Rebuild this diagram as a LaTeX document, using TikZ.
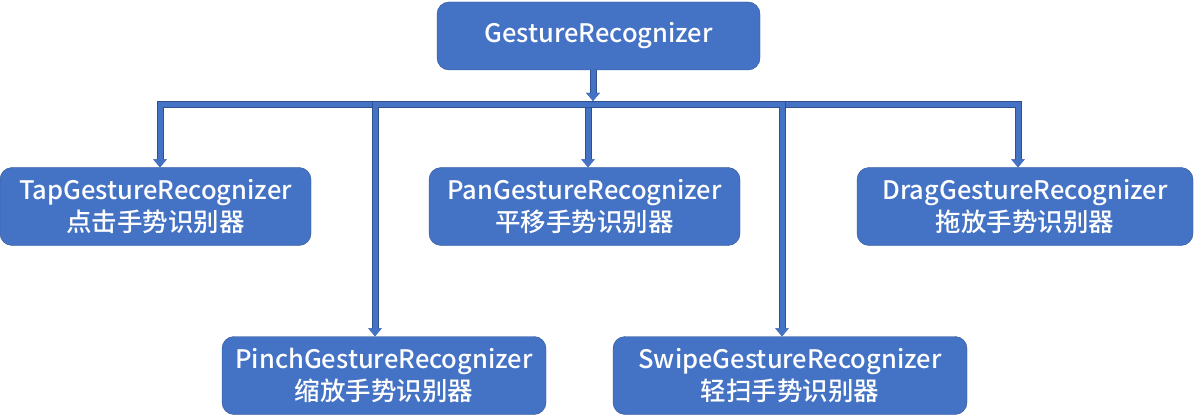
\documentclass[tikz,border=0pt]{standalone}
\usepackage{fontspec}
\setmainfont{Noto Sans CJK SC}[UprightFont=* Medium]
\usetikzlibrary{arrows.meta}
\definecolor{boxfill}{HTML}{4472C4}
\definecolor{boxline}{HTML}{2F528F}
\begin{document}
\begin{tikzpicture}[
                            x=1pt, y=-1pt,
                            >={Triangle[width=13pt,length=8pt]},
                            block/.style={rectangle, rounded corners=12pt, draw=boxline, fill=boxfill,
                                text=white, font=\fontsize{25.5}{32}\selectfont, align=center,
                                inner sep=0pt, minimum height=78pt},
                            conn/.style={->, draw=boxfill, line width=5pt,
                                preaction={draw=boxline, line width=7pt}}
                        ]
                        \useasboundingbox (0,0) rectangle (1195,417);
                        % Blocks
                        \node [block, minimum width=323pt, minimum height=68pt] (base) at (598.5,36) {GestureRecognizer};
                        \node [block, minimum width=311pt] (tap) at (155.5,206.5) {TapGestureRecognizer\\点击手势识别器};
                        \node [block, minimum width=311pt] (pan) at (584.5,206.5) {PanGestureRecognizer\\平移手势识别器};
                        \node [block, minimum width=336pt] (drag) at (1025,206.5) {DragGestureRecognizer\\拖放手势识别器};
                        \node [block, minimum width=324pt] (pinch) at (384,375.5) {PinchGestureRecognizer\\缩放手势识别器};
                        \node [block, minimum width=354pt] (swipe) at (790,375.5) {SwipeGestureRecognizer\\轻扫手势识别器};
                        \coordinate (bus) at (593,105);
                        \coordinate (busin) at (593,101);

                        % Connections
                        \draw [conn] (base.south -| busin) -- (busin);
                        \draw [conn] (bus) -| ([xshift=4.5pt]tap.north);
                        \draw [conn] (bus) -| ([xshift=3.5pt]pan.north);
                        \draw [conn] (bus) -| ([xshift=-7pt]drag.north);
                        \draw [conn] (bus) -| ([xshift=-9pt]pinch.north);
                        \draw [conn] (bus) -| ([xshift=-8pt]swipe.north);
                    \end{tikzpicture}
\end{document}
